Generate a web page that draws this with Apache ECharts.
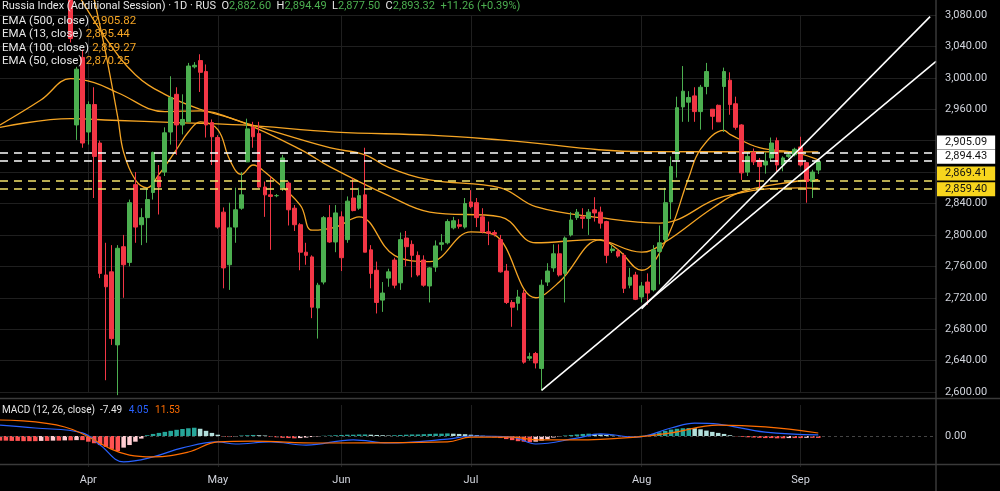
<!DOCTYPE html>
<html lang="en" style="height: 100%">
<head>
  <meta charset="utf-8">
</head>
<body style="height: 100%; margin: 0; background: #000">
  <div id="container" style="height: 100%"></div>

<script type="text/javascript" src="https://cdn.jsdelivr.net/npm/echarts@6.0.0/dist/echarts.min.js"></script>

<script type="text/javascript">
// daily candles, first candle sits on slot 12 of the axis
var firstSlot = 12;
var slotCount = 160;
var opens = [3100,2940,3026,2931,2966,2917,2749,2753,2660,2785,2765,2864,2813,2822,2854,2874,2880,2931,2979,2940,2944,3014,3022,3008,2943,2924,2829,2762,2810,2834,2893,2937,2929,2861,2851,2850,2860,2866,2834,2813,2778,2772,2707,2740,2822,2791,2823,2794,2847,2834,2851,2781,2755,2717,2745,2768,2739,2796,2788,2774,2768,2735,2759,2788,2790,2809,2813,2810,2842,2841,2823,2804,2803,2794,2754,2714,2713,2726,2643,2649,2630,2740,2758,2776,2751,2800,2822,2823,2821,2832,2829,2817,2780,2779,2774,2736,2749,2721,2740,2730,2779,2794,2842,2896,2963,2969,2977,2957,2989,2960,2965,2989,2997,2967,2940,2880,2905,2895,2889,2898,2920,2889,2900,2902,2912,2892,2868,2882.60];
var highs = [3105,3014,3036,2970,2988,2920,2790,2787,2787,2800,2845,2880,2834,2860,2906,2889,2937,3002,2988,2979,3019,3020,3030,3017,2947,2927,2835,2841,2860,2880,2948,2944,2944,2868,2874,2852,2902,2868,2838,2815,2790,2774,2739,2824,2838,2838,2830,2849,2872,2860,2911,2787,2766,2740,2757,2771,2803,2805,2793,2779,2774,2759,2793,2801,2820,2823,2820,2847,2857,2847,2834,2817,2806,2800,2763,2717,2730,2730,2650,2651,2743,2764,2788,2788,2798,2829,2833,2834,2833,2848,2836,2818,2787,2782,2777,2758,2753,2740,2751,2787,2812,2860,2900,2976,3015,2983,2988,2991,3019,2960,2966,3013,3007,2976,2941,2906,2910,2898,2905,2924,2924,2900,2906,2911,2925,2893,2883,2894.49];
var lows = [3045,2921,2911,2915,2847,2745,2615,2660,2596,2720,2760,2790,2787,2790,2845,2826,2875,2915,2902,2928,2944,3012,2982,2924,2889,2808,2732,2730,2790,2832,2893,2911,2860,2823,2781,2848,2856,2812,2805,2755,2762,2694,2668,2737,2790,2778,2754,2790,2830,2832,2778,2732,2700,2702,2734,2732,2730,2760,2746,2747,2734,2714,2753,2780,2788,2807,2808,2808,2834,2810,2802,2787,2798,2752,2712,2683,2704,2636,2640,2630,2602,2735,2753,2747,2714,2798,2819,2808,2800,2817,2808,2764,2777,2771,2726,2732,2717,2714,2711,2728,2737,2791,2820,2873,2944,2944,2944,2934,2979,2934,2944,2931,2953,2934,2870,2875,2889,2860,2878,2893,2881,2881,2898,2900,2887,2841,2847,2877.50];
var closes = [3050,3011,2917,2966,2900,2751,2734,2668,2783,2762,2841,2810,2822,2845,2905,2861,2930,2975,2940,2947,3015,3016,3007,2940,2925,2810,2758,2809,2832,2851,2935,2925,2861,2851,2849,2850,2898,2832,2813,2778,2774,2708,2736,2822,2791,2828,2771,2843,2831,2850,2778,2751,2714,2726,2753,2736,2794,2785,2774,2749,2736,2758,2786,2790,2817,2818,2811,2840,2836,2822,2804,2802,2801,2753,2714,2708,2721,2638,2645,2637,2736,2754,2776,2749,2796,2819,2829,2821,2829,2828,2815,2774,2782,2773,2732,2746,2718,2735,2726,2781,2790,2841,2887,2962,2983,2975,2957,2988,3008,2951,2944,3008,2966,2937,2879,2900,2893,2887,2894,2917,2889,2898,2902,2909,2889,2868,2880,2893.32];

// EMA curves as [slot, value]
var ema500 = [[0,2937],[12,2948],[19,2946],[30,2943],[41,2940],[57,2931],[73,2927],[85,2921],[110,2906],[139,2905.82]];
var ema100 = [[0,2940],[7,2972],[12,2999],[16,2994],[20,2981],[28,2957],[34,2958],[41,2944],[56,2911],[62,2902],[66,2886],[73,2870],[85,2860],[91,2836],[102,2822],[112,2815],[123,2849],[136,2860],[139,2859.27]];
var ema50 = [[13,3110],[18,3050],[23,3004],[28,2979],[34,2960],[41,2944],[51,2909],[56,2887],[66,2850],[73,2829],[85,2823],[91,2790],[101,2794],[109,2778],[113,2791],[121,2834],[126,2855],[135,2868],[139,2870.25]];
var ema13 = [[16,3100],[18,3030],[20,2950],[21,2905],[23,2870],[25,2860],[27,2877],[30,2909],[32,2931],[34,2944],[37,2934],[39,2896],[41,2877],[43,2889],[45,2880],[51,2838],[53,2806],[57,2810],[61,2823],[67,2774],[73,2766],[80,2804],[84,2800],[91,2720],[95,2740],[102,2794],[105,2781],[109,2755],[113,2791],[117,2873],[119,2909],[123,2933],[124,2928],[129,2911],[135,2905],[139,2895.44]];

// MACD panel
var macdHist = [-18,-18,-19,-19,-20,-20,-20,-19,-19,-18,-18,-17,-17,-16,-16,-22,-28,-35,-42,-50,-58,-45,-35,-22,-10,3,8,12,16,20,24,27,30,32,28,20,12,5,-3,-4,-2,2,3,4,3,2,-3,-5,-7,-8,-9,-8,-6,-4,-2,1,2,3,4,5,5,6,6,5,4,3,2,3,4,5,6,6,7,8,9,9,10,9,8,7,5,3,1,-2,-5,-8,-12,-16,-20,-22,-24,-22,-18,-12,-6,-2,2,4,6,8,9,8,6,4,2,0,-2,-3,-2,1,3,8,14,20,25,28,30,31,30,26,21,16,12,8,3,-1,-3,-5,-6,-7,-8,-8,-9,-9,-8,-8,-8,-7,-7,-7.49];
var macdLine = [[0,42],[6,31],[14,12],[17,-35],[21,-100],[26,-81],[31,-46],[37,-23],[40,-31],[46,-23],[52,-35],[60,-15],[66,-27],[76,-12],[80,0],[87,-4],[91,-31],[98,-8],[102,8],[108,-4],[114,31],[118,50],[122,46],[130,15],[139,4.05]];
var signalLine = [[0,62],[11,35],[22,-74],[26,-81],[32,-62],[37,-23],[43,-20],[54,-27],[76,-23],[80,-4],[87,-4],[91,-15],[98,-15],[108,-4],[114,12],[122,42],[130,35],[139,11.53]];

var monthSlots = {15: 'Apr', 37: 'May', 58: 'Jun', 80: 'Jul', 109: 'Aug', 136: 'Sep'};
var priceLevels = [2905.09, 2894.43, 2869.41, 2859.40];
var trendLines = [[[92, 2602], [159, 3021]], [[109, 2706], [158, 3078]]];

var dom = document.getElementById('container');
var myChart = echarts.init(dom, null, { renderer: 'canvas' });

var slots = [];
for (var i = 0; i < slotCount; i++) slots.push(String(i));
var candles = [];
for (var i = 0; i < firstSlot; i++) candles.push('-');
opens.forEach(function (o, k) { candles.push([o, closes[k], lows[k], highs[k]]); });

var isMonth = function (idx) { return monthSlots[idx] !== undefined; };
var fmt = function (v) { return v.toLocaleString('en-US', { minimumFractionDigits: 2, maximumFractionDigits: 2 }); };
var orange = '#f5a524';
var grid = '#1f1f1f';
var font = 'Roboto';
// the price boxes are nudged apart so they do not cover each other
var boxShift = [-10, -4, -7, 1];

function emaSeries(pts) {
  return {
    type: 'line', data: pts, smooth: 0.4, showSymbol: false, clip: false,
    lineStyle: { color: orange, width: 1.3 }, z: 3, silent: true
  };
}

function legendText(top, label, value) {
  return { type: 'text', left: 2, top: top, z: 20, style: {
    text: '{w|' + label + '} {o|' + value + '}',
    rich: { w: { fill: '#e6e6e6', fontSize: 11.5, fontFamily: font }, o: { fill: orange, fontSize: 11.5, fontFamily: font } } } };
}

var levelLines = priceLevels.map(function (v, k) {
  var yellow = k >= 2;
  return {
    yAxis: v,
    lineStyle: { color: yellow ? '#f3e36b' : '#ffffff', type: [8, 6], width: 1.6 },
    label: {
      show: true, position: 'end', distance: 1, formatter: fmt(v), offset: [0, boxShift[k]],
      backgroundColor: yellow ? '#f7d51d' : '#ffffff', color: '#111',
      fontSize: 11, padding: [1, 8, 0, 8], lineHeight: 13, fontFamily: font
    }
  };
});

var option = {
  backgroundColor: '#000',
  animation: false,
  grid: [
    { left: 0, right: 64, top: 15, height: 377 },
    { left: 0, right: 64, top: 405, height: 62 }
  ],
  xAxis: [
    { type: 'category', gridIndex: 0, data: slots, boundaryGap: false,
      axisLine: { show: false }, axisTick: { show: false }, axisLabel: { show: false },
      splitLine: { show: true, interval: function (i) { return isMonth(i); }, lineStyle: { color: grid } } },
    { type: 'category', gridIndex: 1, data: slots, boundaryGap: false,
      axisLine: { show: false }, axisTick: { show: false },
      axisLabel: { interval: function (i) { return isMonth(i); }, formatter: function (v, i) { return monthSlots[i] || ''; },
        color: '#d1d4dc', fontSize: 11, margin: 8, fontFamily: font },
      splitLine: { show: true, interval: function (i) { return isMonth(i); }, lineStyle: { color: grid } } }
  ],
  yAxis: [
    { type: 'value', gridIndex: 0, position: 'right', min: 2600, max: 3080, interval: 40,
      axisLine: { show: false }, axisTick: { show: false },
      axisLabel: { color: '#d1d4dc', fontSize: 11, margin: 9, fontFamily: font,
        formatter: function (v) { return (v === 2880 || v === 2920) ? '' : fmt(v); } },
      splitLine: { lineStyle: { color: grid } } },
    { type: 'value', gridIndex: 1, position: 'right', min: -120, max: 120, interval: 120,
      axisLine: { show: false }, axisTick: { show: false },
      axisLabel: { color: '#d1d4dc', fontSize: 11, margin: 9, fontFamily: font,
        formatter: function (v) { return v === 0 ? '0.00' : ''; } },
      splitLine: { show: false } }
  ],
  graphic: [
    { type: 'line', shape: { x1: 936, y1: 0, x2: 936, y2: 491 }, style: { stroke: '#555', lineWidth: 1 }, z: 10 },
    { type: 'line', shape: { x1: 0, y1: 398.5, x2: 1000, y2: 398.5 }, style: { stroke: '#3a3a3a', lineWidth: 1.5 }, z: 10 },
    { type: 'line', shape: { x1: 0, y1: 464.5, x2: 1000, y2: 464.5 }, style: { stroke: '#3a3a3a', lineWidth: 1.5 }, z: 10 },
    { type: 'text', left: 2, top: 1, z: 20, style: {
      text: '{w|Russia Index (Additional Session) · 1D · RUS  O}{g|2,882.60}{w|  H}{g|2,894.49}{w|  L}{g|2,877.50}{w|  C}{g|2,893.32  +11.26 (+0.39%)}',
      rich: { w: { fill: '#e6e6e6', fontSize: 11, fontFamily: font }, g: { fill: '#4caf50', fontSize: 11, fontFamily: font } } } },
    legendText(15, 'EMA (500, close)', '2,905.82'),
    legendText(28, 'EMA (13, close)', '2,895.44'),
    legendText(42, 'EMA (100, close)', '2,859.27'),
    legendText(55, 'EMA (50, close)', '2,870.25'),
    { type: 'text', left: 2, top: 404, z: 20, style: { text: '{w|MACD (12, 26, close)  -7.49}  {b|4.05}  {o|11.53}', rich: { w: { fill: '#e6e6e6', fontSize: 10, fontFamily: font }, b: { fill: '#2962ff', fontSize: 10, fontFamily: font }, o: { fill: '#ff6d00', fontSize: 10, fontFamily: font } } } }
  ],
  series: [
    emaSeries(ema500), emaSeries(ema100), emaSeries(ema50), emaSeries(ema13),
    {
      type: 'candlestick', xAxisIndex: 0, yAxisIndex: 0, data: candles, barWidth: 4.2, clip: false, z: 4,
      itemStyle: { color: '#4caf50', color0: '#f23645', borderColor: '#4caf50', borderColor0: '#f23645', borderWidth: 1 },
      markLine: {
        symbol: ['none', 'none'], silent: true, animation: false,
        data: levelLines.concat(trendLines.map(function (t) {
          return [{ coord: t[0], lineStyle: { color: '#fff', type: 'solid', width: 1.6 }, label: { show: false } }, { coord: t[1] }];
        }))
      }
    },
    {
      type: 'bar', xAxisIndex: 1, yAxisIndex: 1, data: macdHist, barWidth: 4.5,
      itemStyle: { color: function (p) {
        var prev = p.dataIndex > 0 ? macdHist[p.dataIndex - 1] : p.value;
        if (p.value >= 0) return p.value >= prev ? '#26a69a' : '#b2dfdb';
        return p.value <= prev ? '#ff5252' : '#ffcdd2';
      } },
      markLine: { symbol: ['none', 'none'], silent: true, label: { show: false },
        data: [{ yAxis: 0 }], lineStyle: { color: '#444', type: [3, 3], width: 1 } }
    },
    { type: 'line', xAxisIndex: 1, yAxisIndex: 1, data: macdLine, smooth: 0.4, showSymbol: false, lineStyle: { color: '#2962ff', width: 1.2 }, z: 5 },
    { type: 'line', xAxisIndex: 1, yAxisIndex: 1, data: signalLine, smooth: 0.4, showSymbol: false, lineStyle: { color: '#ff6d00', width: 1.2 }, z: 5 }
  ]
};

myChart.setOption(option);
window.addEventListener('resize', myChart.resize);
</script>
</body>
</html>
